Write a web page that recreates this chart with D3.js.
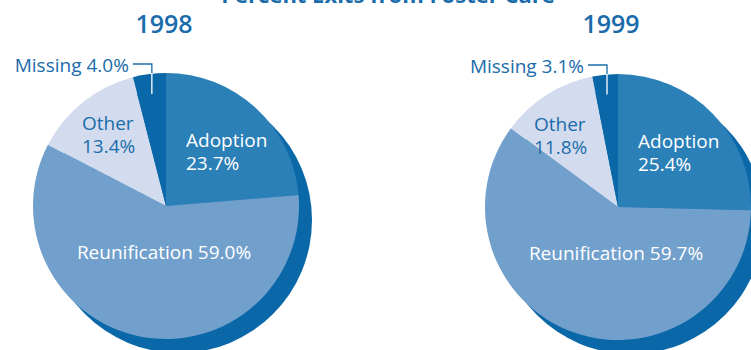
<!DOCTYPE html>
<html>
<head>
<meta charset="utf-8">
<script src="https://cdn.jsdelivr.net/npm/d3@7"></script>
<style>
  html, body { margin: 0; padding: 0; background: #fff; }
  svg { display: block; font-family: "Open Sans", "Noto Sans", sans-serif; }
</style>
</head>
<body>
<svg id="chart" width="751" height="350"></svg>
<script>
// Exits from foster care, by outcome, for two years
const categories = ["Adoption", "Reunification", "Other", "Missing"];
const years = ["1998", "1999"];
const values1998 = [23.7, 59.0, 13.4, 4.0];
const values1999 = [25.4, 59.7, 11.8, 3.1];
const chartTitle = "Percent Exits from Foster Care";

const colors = d3.scaleOrdinal()
  .domain(categories)
  .range(["#2b80b8", "#72a0cc", "#d3dcee", "#0a68a8"]);
const shadowColor = "#0a68a8";
const labelDark = "#1a6cab";

const svg = d3.select("#chart");

// Title, sits mostly above the visible frame
svg.append("text")
  .attr("x", 388).attr("y", 3)
  .attr("text-anchor", "middle")
  .attr("font-size", 22).attr("font-weight", 700)
  .attr("fill", labelDark)
  .text(chartTitle);

const pies = [
  { year: years[0], values: values1998, cx: 166, cy: 206, yearX: 164 },
  { year: years[1], values: values1999, cx: 618, cy: 207, yearX: 611 }
];

const r = 133;
const shadowDx = 13, shadowDy = 14;
const fs = 19;
const pie = d3.pie().sort(null).value(d => d.value);
const arc = d3.arc().innerRadius(0).outerRadius(r);

// Label placement for each slice, relative to the pie centre
const labelLayout = {
  Adoption:      { dx: 20,  dy: -59, anchor: "start",  lines: 2, color: "#fff" },
  Reunification: { dx: -2,  dy: 53,  anchor: "middle", lines: 1, color: "#fff" },
  Other:         { dx: -84, dy: -76, anchor: "start",  lines: 2, color: labelDark }
};

pies.forEach(p => {
  const g = svg.append("g").attr("transform", `translate(${p.cx},${p.cy})`);
  const data = categories.map((c, i) => ({ cat: c, value: p.values[i] }));
  const arcs = pie(data);

  // year heading
  svg.append("text")
    .attr("x", p.yearX).attr("y", 33)
    .attr("text-anchor", "middle")
    .attr("font-size", 25).attr("font-weight", 600)
    .attr("fill", labelDark)
    .text(p.year);

  // drop shadow disk
  g.append("circle")
    .attr("cx", shadowDx).attr("cy", shadowDy).attr("r", r)
    .attr("fill", shadowColor);

  // slices
  g.selectAll("path.slice")
    .data(arcs)
    .join("path")
    .attr("class", "slice")
    .attr("d", arc)
    .attr("fill", d => colors(d.data.cat));

  // in-slice labels
  arcs.forEach(a => {
    const L = labelLayout[a.data.cat];
    if (!L) return;
    const t = g.append("text")
      .attr("x", L.dx).attr("y", L.dy)
      .attr("text-anchor", L.anchor)
      .attr("font-size", fs)
      .attr("fill", L.color);
    if (L.lines === 2) {
      t.append("tspan").attr("x", L.dx).text(a.data.cat);
      t.append("tspan").attr("x", L.dx).attr("dy", 23).text(a.data.value.toFixed(1) + "%");
    } else {
      t.text(a.data.cat + " " + a.data.value.toFixed(1) + "%");
    }
  });

  // Missing label with a leader line into its slice
  const miss = arcs.find(a => a.data.cat === "Missing");
  const mid = (miss.startAngle + miss.endAngle) / 2;
  const lx = Math.sin(mid) * (r - 20);
  const ly = -Math.cos(mid) * (r - 20);
  const hy = -142;
  g.append("path")
    .attr("d", `M${lx - 19},${hy}H${lx}V${-r}`)
    .attr("fill", "none").attr("stroke", labelDark).attr("stroke-width", 1.3);
  g.append("path")
    .attr("d", `M${lx},${-r}V${ly}`)
    .attr("fill", "none").attr("stroke", "#fff").attr("stroke-width", 1.3);
  g.append("text")
    .attr("x", lx - 23).attr("y", hy + 8)
    .attr("text-anchor", "end")
    .attr("font-size", fs)
    .attr("fill", labelDark)
    .text("Missing " + miss.data.value.toFixed(1) + "%");
});
</script>
</body>
</html>
